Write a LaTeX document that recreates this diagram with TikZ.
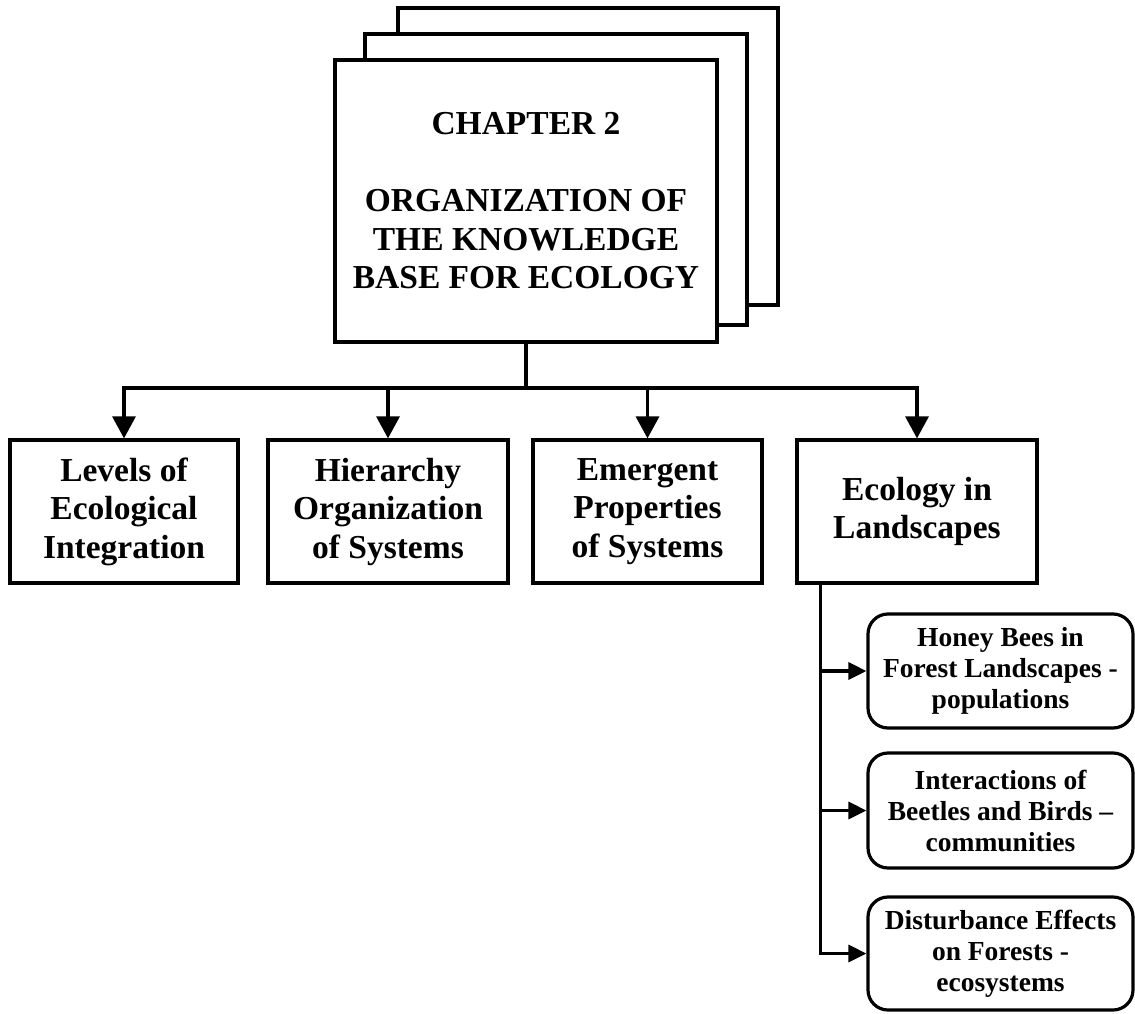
\documentclass[tikz,border=0pt]{standalone}
\usepackage{fontspec}
\setmainfont{Liberation Serif}
\usetikzlibrary{arrows.meta}

\begin{document}
\begin{tikzpicture}[
  x=1pt, y=-1pt,
  line width=3.2pt,
  bigtext/.style={font=\bfseries\fontsize{33.5}{38.5}\selectfont},
  topic/.style={draw, fill=white, rectangle, align=center, inner sep=0pt,
    minimum height=143pt, bigtext},
  subtopic/.style={draw, fill=white, rectangle, rounded corners=20pt, align=center,
    inner sep=0pt, minimum width=265pt, font=\bfseries\fontsize{27.5}{31}\selectfont},
  downarrow/.style={-{Triangle[length=22pt, width=23pt]}},
  sidearrow/.style={-{Triangle[length=18pt, width=17pt]}},
]
\useasboundingbox (0,0) rectangle (1135,1014);

% stacked pages behind the chapter box
\draw[fill=white] (398,8) rectangle (778,305);
\draw[fill=white] (365,34) rectangle (747,325);
\node[draw, fill=white, rectangle, inner sep=0pt, align=center,
      minimum width=382pt, minimum height=282pt, bigtext] (chap) at (526,201)
  {CHAPTER 2\\[38.5pt]ORGANIZATION OF\\THE KNOWLEDGE\\BASE FOR ECOLOGY};

% second row of topics
\node[topic, minimum width=228pt] (lev) at (124,511.5) {Levels of\\Ecological\\Integration};
\node[topic, minimum width=240pt] (hier) at (388,511.5) {Hierarchy\\Organization\\of Systems};
\node[topic, minimum width=229pt] (emer) at (647.5,511.5) {Emergent\\Properties\\of Systems};
\node[topic, minimum width=240pt] (eco) at (917,511.5) {Ecology in\\Landscapes};

% landscape case studies
\node[subtopic, minimum height=114pt] (bees) at (1000.5,671) {Honey Bees in\\Forest Landscapes -\\populations};
\node[subtopic, minimum height=115pt] (beet) at (1000.5,810.5) {Interactions of\\Beetles and Birds --\\communities};
\node[subtopic, minimum height=113pt] (dist) at (1000.5,953.5) {Disturbance Effects\\on Forests -\\ecosystems};

% chapter to topics
\coordinate (hub) at (526,388);
\draw (chap.south) -- (hub);
\draw[downarrow] (hub) -| (lev.north);
\draw[downarrow] (hub) -| (hier.north);
\draw[downarrow] (hub) -| (emer.north);
\draw[downarrow] (hub) -| (eco.north);

% landscapes to case studies
\coordinate (spine) at ([xshift=25pt]eco.south west);
\draw[sidearrow] (spine) |- (bees.west);
\draw[sidearrow] (spine) |- (beet.west);
\draw[sidearrow] (spine) |- (dist.west);
\end{tikzpicture}
\end{document}
